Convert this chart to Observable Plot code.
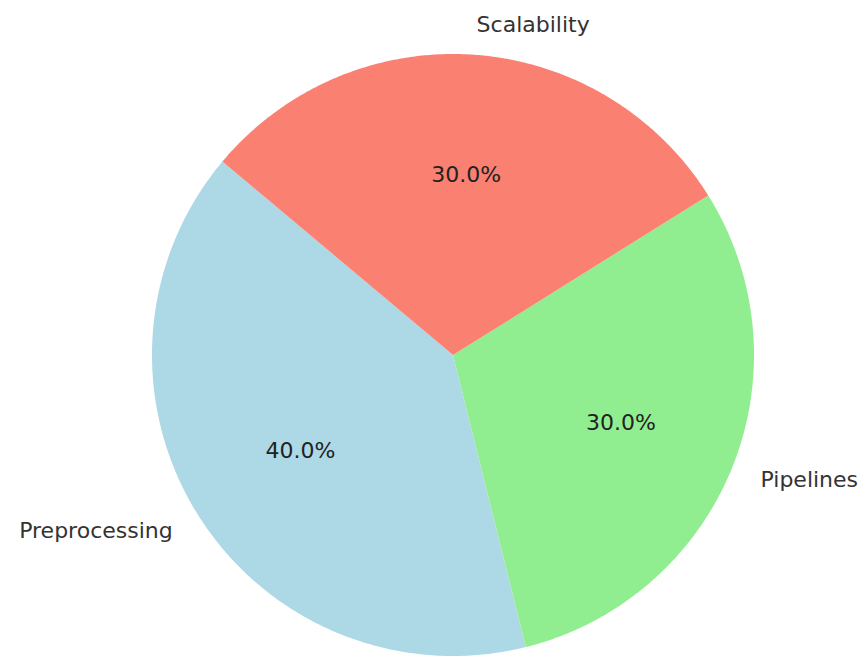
<!DOCTYPE html>
<html>
<head>
<meta charset="utf-8">
<script src="https://cdn.jsdelivr.net/npm/d3@7"></script>
<script src="https://cdn.jsdelivr.net/npm/@observablehq/plot@0.6"></script>
<style>
  html, body { margin: 0; padding: 0; background: #fff; }
  #chart svg { display: block; }
</style>
</head>
<body>
<div id="chart"></div>
<script>
// Data
const labels = ["Preprocessing", "Pipelines", "Scalability"];
const values = [40, 30, 30];
const colors = ["#ADD8E6", "#90EE90", "#FA8072"];
const startAngle = 140; // degrees, counterclockwise (matplotlib style)

const total = d3.sum(values);
const slices = [];
let a0 = startAngle;
labels.forEach((label, i) => {
  const span = values[i] / total * 360;
  slices.push({label, value: values[i], a0, a1: a0 + span, mid: a0 + span / 2});
  a0 += span;
});
const rad = d => d * Math.PI / 180;

// Outline points for each wedge (center + arc)
const pts = [];
for (const s of slices) {
  pts.push({label: s.label, x: 0, y: 0});
  const n = 240;
  for (let k = 0; k <= n; k++) {
    const a = rad(s.a0 + (s.a1 - s.a0) * k / n);
    pts.push({label: s.label, x: Math.cos(a), y: Math.sin(a)});
  }
}

const outer = slices.map(s => ({
  label: s.label,
  x: 1.1 * Math.cos(rad(s.mid)),
  y: 1.1 * Math.sin(rad(s.mid))
}));
const inner = slices.map(s => ({
  text: (s.value / total * 100).toFixed(1) + "%",
  x: 0.6 * Math.cos(rad(s.mid)),
  y: 0.6 * Math.sin(rad(s.mid))
}));

const W = 865, H = 657, cx = 453, cy = 355, R = 301;

const chart = Plot.plot({
  width: W,
  height: H,
  margin: 0,
  x: {domain: [-cx / R, (W - cx) / R], range: [0, W], axis: null},
  y: {domain: [(cy - H) / R, cy / R], range: [H, 0], axis: null},
  color: {domain: labels, range: colors},
  style: {fontFamily: "DejaVu Sans", background: "#fff"},
  marks: [
    Plot.area(pts, {x1: "x", y1: "y", x2: () => 0, y2: () => 0, fill: "label", z: "label", curve: "linear"}),
    Plot.text(outer.filter(d => d.x > 0), {x: "x", y: "y", text: "label", fontSize: 22, fill: "#333", textAnchor: "start"}),
    Plot.text(outer.filter(d => d.x <= 0), {x: "x", y: "y", text: "label", fontSize: 22, fill: "#333", textAnchor: "end"}),
    Plot.text(inner, {x: "x", y: "y", text: "text", fontSize: 22, fill: "#222"})
  ]
});
document.getElementById("chart").appendChild(chart);
</script>
</body>
</html>
